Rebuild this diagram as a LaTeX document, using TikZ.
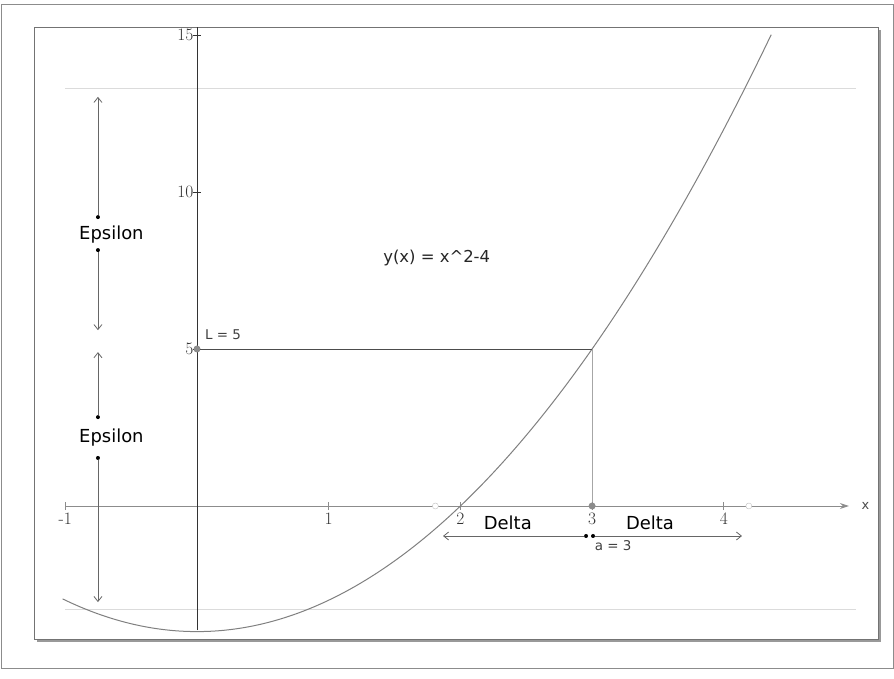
\documentclass[tikz,border=0pt]{standalone}
\usepackage{fontspec}
\newfontfamily\guifont{DejaVu Sans}
\usetikzlibrary{arrows.meta, positioning}

\begin{document}
\begin{tikzpicture}[
  x=1bp, y=1bp,
  >=Stealth,
  axisline/.style={draw=black!60, line width=0.9bp},
  guide/.style={draw=black!14, line width=0.8bp},
  curve/.style={draw=black!50, line width=1bp},
  limit/.style={draw=black!70, line width=0.9bp},
  drop/.style={draw=black!35, line width=0.9bp},
  arr/.style={-{Straight Barb[length=5bp,width=8bp]}, draw=black!60, line width=0.8bp},
  dot/.style={circle, fill=black, inner sep=0pt, minimum size=4bp},
  pt/.style={circle, fill=black!45, inner sep=0pt, minimum size=7bp},
  hollow/.style={circle, draw=black!25, fill=white, inner sep=0pt, minimum size=6bp},
  bigtxt/.style={font=\guifont\fontsize{18}{20}\selectfont, inner sep=0pt},
  midtxt/.style={font=\guifont\fontsize{16.5}{19}\selectfont, text=black!85, inner sep=0pt},
  smalltxt/.style={font=\guifont\fontsize{13.5}{15}\selectfont, text=black!75, inner sep=0pt},
  ticklbl/.style={font=\fontsize{17.5}{19}\selectfont, text=black!80, inner sep=2bp}
]
\useasboundingbox (0,0) rectangle (894,679);

% window and plot frame
\draw[black!45, line width=0.8bp] (1,11) rectangle (893,675);
\fill[black!40] (37,37) rectangle (881,649);
\draw[black!55, fill=white, line width=0.8bp] (34,40) rectangle (878,652);

\begin{scope}[shift={(197,173)}, x=131.7bp, y=31.4bp]
% epsilon band
\draw[guide] (-1,13.3) -- (5,13.3);
\draw[guide] (-1,-3.3) -- (5,-3.3);

% axes
\coordinate (xstart) at (-1,0);
\coordinate (xend) at (4.95,0);
\coordinate (ybot) at (0,-3.95);
\coordinate (ytop) at (0,15.25);
\draw[axisline, draw=black!45, -{Stealth[length=9bp,width=6bp]}] (xstart) -- (xend);
\draw[axisline, draw=black!80] (ybot) -- (ytop);
\node[font=\guifont\fontsize{13}{15}\selectfont, text=black!70, anchor=west] (xlbl) at (5.02,0) {x};

\foreach \k/\lbl in {-1/-1,1/1,2/2,3/3,4/4}{
  \draw[axisline, draw=black!45] (\k,-0.13) -- (\k,0.13);
  \node[ticklbl, anchor=north] (xt\k) at (\k,-0.15) {\lbl};
}
\foreach \k in {5,10,15}{
  \draw[axisline, draw=black!80] (-0.03,\k) -- (0.03,\k);
  \node[ticklbl, anchor=east] (yt\k) at (-0.01,\k) {\k};
}

% the parabola
\draw[curve, domain=-1.02:4.36, samples=80, smooth] plot (\x, {\x*\x-4});

% limit and delta interval
\node[hollow] (lo) at (1.81,0) {};
\node[hollow] (hi) at (4.19,0) {};
\node[pt] (lpt) at (0,5) {};
\coordinate (corner) at (3,5);
\node[pt] (apt) at (3,0) {};
\draw[limit] (lpt) -- (corner);
\draw[drop] (corner) -- (apt);
\node[smalltxt, anchor=west] (llbl) at (0.06,5.45) {L = 5};

\node[midtxt] (func) at (1.82,7.9) {y(x) = x\textasciicircum 2-4};

% epsilon arrows
\node[dot] (e1a) at (-0.752,9.2) {};
\coordinate (e1tip) at (-0.752,13.03);
\node[bigtxt] (eps1) at (-0.65,8.63) {Epsilon};
\node[dot] (e1b) at (-0.752,8.15) {};
\coordinate (e1bot) at (-0.752,5.6);
\draw[arr] (e1a) -- (e1tip);
\draw[arr] (e1b) -- (e1bot);

\node[dot] (e2a) at (-0.752,2.83) {};
\coordinate (e2tip) at (-0.752,4.9);
\node[bigtxt] (eps2) at (-0.65,2.17) {Epsilon};
\node[dot] (e2b) at (-0.752,1.53) {};
\coordinate (e2bot) at (-0.752,-3.06);
\draw[arr] (e2a) -- (e2tip);
\draw[arr] (e2b) -- (e2bot);

% delta arrows
\node[bigtxt] (d1) at (2.36,-0.55) {Delta};
\node[bigtxt] (d2) at (3.44,-0.55) {Delta};
\node[dot] (dl) at (2.954,-0.955) {};
\node[dot] (dr) at (3.007,-0.955) {};
\coordinate (dltip) at (1.868,-0.955);
\coordinate (drtip) at (4.138,-0.955);
\draw[arr] (dl) -- (dltip);
\draw[arr] (dr) -- (drtip);
\node[smalltxt, anchor=north] (albl) at (3.16,-1.08) {a = 3};
\end{scope}
\end{tikzpicture}
\end{document}
